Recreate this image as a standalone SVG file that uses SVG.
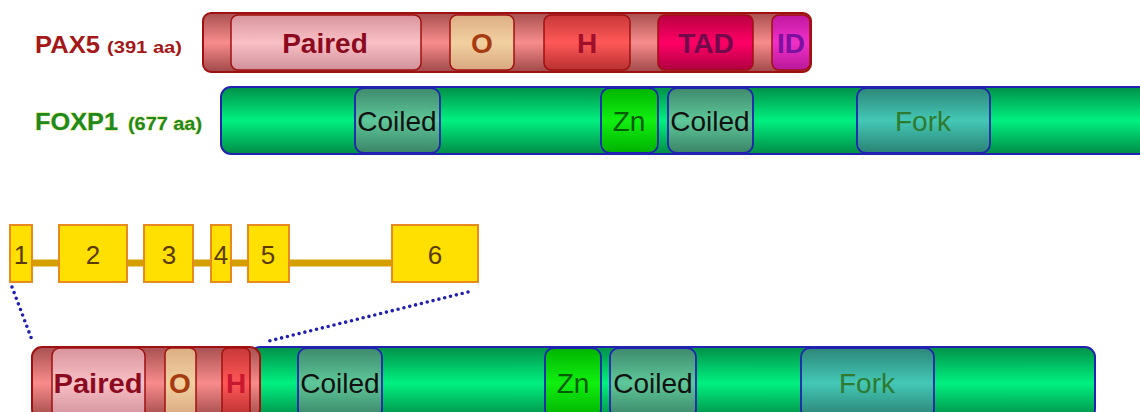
<svg xmlns="http://www.w3.org/2000/svg" width="1140" height="412" viewBox="0 0 1140 412">
  <defs>
    <!-- vertical "tube" shading used by every bar and domain -->
    <linearGradient id="gPax" x1="0" y1="0" x2="0" y2="1">
      <stop offset="0" stop-color="#a85050"/>
      <stop offset="0.5" stop-color="#f88c8c"/>
      <stop offset="1" stop-color="#a04848"/>
    </linearGradient>
    <linearGradient id="gPaired" x1="0" y1="0" x2="0" y2="1">
      <stop offset="0" stop-color="#d8949c"/>
      <stop offset="0.5" stop-color="#f9c0c6"/>
      <stop offset="1" stop-color="#d0909a"/>
    </linearGradient>
    <linearGradient id="gO" x1="0" y1="0" x2="0" y2="1">
      <stop offset="0" stop-color="#dcae84"/>
      <stop offset="0.5" stop-color="#f2d0a0"/>
      <stop offset="1" stop-color="#d8a880"/>
    </linearGradient>
    <linearGradient id="gH" x1="0" y1="0" x2="0" y2="1">
      <stop offset="0" stop-color="#c83838"/>
      <stop offset="0.5" stop-color="#ff5858"/>
      <stop offset="1" stop-color="#b83030"/>
    </linearGradient>
    <linearGradient id="gTad" x1="0" y1="0" x2="0" y2="1">
      <stop offset="0" stop-color="#b80040"/>
      <stop offset="0.5" stop-color="#ff0066"/>
      <stop offset="1" stop-color="#b00040"/>
    </linearGradient>
    <linearGradient id="gId" x1="0" y1="0" x2="0" y2="1">
      <stop offset="0" stop-color="#c018a0"/>
      <stop offset="0.5" stop-color="#f030c8"/>
      <stop offset="1" stop-color="#b81898"/>
    </linearGradient>
    <linearGradient id="gFox" x1="0" y1="0" x2="0" y2="1">
      <stop offset="0" stop-color="#009048"/>
      <stop offset="0.5" stop-color="#00f080"/>
      <stop offset="1" stop-color="#008c46"/>
    </linearGradient>
    <linearGradient id="gCoil" x1="0" y1="0" x2="0" y2="1">
      <stop offset="0" stop-color="#3e8a6c"/>
      <stop offset="0.5" stop-color="#5ec89a"/>
      <stop offset="1" stop-color="#3a8466"/>
    </linearGradient>
    <linearGradient id="gZn" x1="0" y1="0" x2="0" y2="1">
      <stop offset="0" stop-color="#00b400"/>
      <stop offset="0.5" stop-color="#10f010"/>
      <stop offset="1" stop-color="#00b000"/>
    </linearGradient>
    <linearGradient id="gFork" x1="0" y1="0" x2="0" y2="1">
      <stop offset="0" stop-color="#2c8678"/>
      <stop offset="0.5" stop-color="#44c8b6"/>
      <stop offset="1" stop-color="#2a8274"/>
    </linearGradient>
    <style>
      .lbl { font-family: "Liberation Sans", Arial, sans-serif; font-weight: bold; }
      .pax-lbl { fill: #a41818; }
      .fox-lbl { fill: #1e8a1e; stroke: #d8e070; stroke-width: 0.8; paint-order: stroke; }
      .dom { font-family: "Liberation Sans", Arial, sans-serif; font-size: 28px; text-anchor: middle; }
      .b { font-weight: bold; }
      .paxbar { fill: url(#gPax); stroke: #a01010; stroke-width: 2; }
      .paxdom { stroke: #a01010; stroke-width: 1.5; }
      .foxbar { fill: url(#gFox); stroke: #2222b0; stroke-width: 2; }
      .foxdom { stroke: #2222b0; stroke-width: 1.8; }
      .exon { fill: #ffe000; stroke: #e88a20; stroke-width: 2; }
      .exnum { font-family: "Liberation Sans", Arial, sans-serif; font-size: 26px; fill: #5a3a00; text-anchor: middle; }
      .dots { fill: none; stroke: #2020b0; stroke-width: 3.6; stroke-linecap: round; stroke-dasharray: 0 6; }
    </style>
  </defs>

  <rect width="1140" height="412" fill="#ffffff"/>

  <!-- PAX5 protein -->
  <g id="pax5">
    <text class="lbl pax-lbl" x="35" y="53" font-size="24" textLength="65" lengthAdjust="spacingAndGlyphs">PAX5</text>
    <text class="lbl pax-lbl" x="107" y="53" font-size="16" textLength="75" lengthAdjust="spacingAndGlyphs">(391 aa)</text>
    <rect class="paxbar" x="203" y="13" width="608" height="59" rx="8"/>
    <rect class="paxdom" x="231" y="15" width="190" height="55" rx="7" fill="url(#gPaired)"/>
    <text class="dom b" x="325" y="53" fill="#8c0a1e">Paired</text>
    <rect class="paxdom" x="450" y="15" width="64" height="55" rx="7" fill="url(#gO)"/>
    <text class="dom b" x="482" y="53" fill="#a63a10" font-size="26">O</text>
    <rect class="paxdom" x="544" y="15" width="86" height="55" rx="7" fill="url(#gH)"/>
    <text class="dom b" x="587" y="53" fill="#a0102a" font-size="26">H</text>
    <rect class="paxdom" x="658" y="15" width="95" height="55" rx="7" fill="url(#gTad)"/>
    <text class="dom b" x="706" y="53" fill="#700a4c" font-size="26">TAD</text>
    <rect class="paxdom" x="772" y="15" width="38" height="55" rx="7" fill="url(#gId)"/>
    <text class="dom b" x="791" y="53" fill="#7c10a0" font-size="26">ID</text>
  </g>

  <!-- FOXP1 protein -->
  <g id="foxp1">
    <text class="lbl fox-lbl" x="35" y="130" font-size="24" textLength="83" lengthAdjust="spacingAndGlyphs">FOXP1</text>
    <text class="lbl fox-lbl" x="128" y="130" font-size="18" textLength="74" lengthAdjust="spacingAndGlyphs">(677 aa)</text>
    <rect class="foxbar" x="221" y="87" width="940" height="67" rx="10"/>
    <rect class="foxdom" x="355" y="88" width="85" height="65" rx="9" fill="url(#gCoil)"/>
    <text class="dom" x="397" y="131" fill="#111111">Coiled</text>
    <rect class="foxdom" x="601" y="88" width="57" height="65" rx="9" fill="url(#gZn)"/>
    <text class="dom" x="629" y="131" fill="#005c00">Zn</text>
    <rect class="foxdom" x="668" y="88" width="85" height="65" rx="9" fill="url(#gCoil)"/>
    <text class="dom" x="710" y="131" fill="#111111">Coiled</text>
    <rect class="foxdom" x="857" y="88" width="133" height="65" rx="9" fill="url(#gFork)"/>
    <text class="dom" x="923" y="131" fill="#2e7a2e">Fork</text>
  </g>

  <!-- Gene structure: six exons on an intron line -->
  <g id="gene">
    <line x1="20" y1="263" x2="430" y2="263" stroke="#d4a000" stroke-width="7"/>
    <g id="exon1"><rect class="exon" x="10" y="225" width="22" height="57"/><text class="exnum" x="21" y="264">1</text></g>
    <g id="exon2"><rect class="exon" x="59" y="225" width="68" height="57"/><text class="exnum" x="93" y="264">2</text></g>
    <g id="exon3"><rect class="exon" x="144" y="225" width="49" height="57"/><text class="exnum" x="169" y="264">3</text></g>
    <g id="exon4"><rect class="exon" x="211" y="225" width="20" height="57"/><text class="exnum" x="221" y="264">4</text></g>
    <g id="exon5"><rect class="exon" x="248" y="225" width="41" height="57"/><text class="exnum" x="268" y="264">5</text></g>
    <g id="exon6"><rect class="exon" x="392" y="225" width="86" height="57"/><text class="exnum" x="435" y="264">6</text></g>
  </g>

  <!-- dotted guides from the gene to the fusion protein -->
  <g id="connectors">
    <line class="dots" x1="12" y1="287" x2="32" y2="340"/>
    <line class="dots" x1="468" y1="292" x2="269" y2="341"/>
  </g>

  <!-- PAX5-FOXP1 fusion protein -->
  <g id="fusion">
    <rect class="foxbar" x="250" y="347" width="845" height="72" rx="10"/>
    <rect class="paxbar" x="32" y="347" width="228" height="72" rx="10"/>
    <rect class="paxdom" x="52" y="348" width="93" height="70" rx="8" fill="url(#gPaired)"/>
    <text class="dom b" x="98" y="393" fill="#8c0a1e" textLength="89" lengthAdjust="spacingAndGlyphs">Paired</text>
    <rect class="paxdom" x="165" y="348" width="31" height="70" rx="6" fill="url(#gO)"/>
    <text class="dom b" x="180" y="393" fill="#a63a10" font-size="26">O</text>
    <rect class="paxdom" x="222" y="348" width="28" height="70" rx="6" fill="url(#gH)"/>
    <text class="dom b" x="236" y="393" fill="#c81830" font-size="26">H</text>
    <rect class="foxdom" x="298" y="348" width="84" height="70" rx="9" fill="url(#gCoil)"/>
    <text class="dom" x="340" y="393" fill="#111111">Coiled</text>
    <rect class="foxdom" x="545" y="348" width="56" height="70" rx="9" fill="url(#gZn)"/>
    <text class="dom" x="573" y="393" fill="#005c00">Zn</text>
    <rect class="foxdom" x="610" y="348" width="86" height="70" rx="9" fill="url(#gCoil)"/>
    <text class="dom" x="653" y="393" fill="#111111">Coiled</text>
    <rect class="foxdom" x="801" y="348" width="133" height="70" rx="9" fill="url(#gFork)"/>
    <text class="dom" x="867" y="393" fill="#2e7a2e">Fork</text>
  </g>
</svg>
